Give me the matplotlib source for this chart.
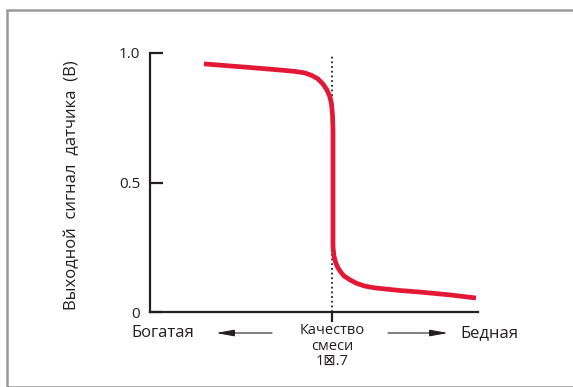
import matplotlib
matplotlib.use("Agg")
import matplotlib.pyplot as plt
from matplotlib.patches import Rectangle, FancyArrowPatch

plt.rcParams['font.family'] = ['Open Sans', 'DejaVu Sans']

# Кривая датчика (ось x в условных единицах, стехиометрия при x = 182)
x_curve = [54, 80, 100, 125, 145, 155, 162, 168, 173, 177, 180, 181.5, 182.5, 183,
           183, 184, 185.5, 187.5, 190, 194, 200, 207, 215, 225, 250, 270, 300, 326]
y_curve = [0.958, 0.950, 0.944, 0.936, 0.929, 0.923, 0.913, 0.900, 0.880, 0.857, 0.830, 0.803, 0.761, 0.703,
           0.251, 0.216, 0.193, 0.174, 0.158, 0.139, 0.124, 0.110, 0.100, 0.093, 0.083, 0.077, 0.066, 0.054]
x_stoich = 182
y_ticks = [0, 0.5, 1.0]
y_ticklabels = ['0', '0.5', '1.0']

W, H = 573, 387
fig = plt.figure(figsize=(W / 100, H / 100), dpi=100)
ax = fig.add_axes([150 / W, (H - 312) / H, 328 / W, 259 / H])

ax.plot(x_curve, y_curve, color='#e31837', lw=3.4, solid_capstyle='butt',
        solid_joinstyle='round', zorder=3)
ax.plot([x_stoich, x_stoich], [0, 0.988], color='#231f20', lw=1.3, ls=(0, (1, 1.6)), zorder=2)

ax.set_xlim(0, 328)
ax.set_ylim(0, 1.0)
for s in ['top', 'right']:
    ax.spines[s].set_visible(False)
for s in ['left', 'bottom']:
    ax.spines[s].set_color('#231f20')
    ax.spines[s].set_linewidth(1.6)
    ax.spines[s].set_capstyle('projecting')

ax.set_yticks(y_ticks)
ax.set_yticklabels(y_ticklabels)
ax.tick_params(axis='y', direction='in', length=9.5, width=1.6, color='#231f20',
               labelsize=11, pad=7, labelcolor='#231f20')
ax.set_xticks([x_stoich])
ax.set_xticklabels([])
ax.tick_params(axis='x', direction='out', length=7.5, width=1.6, color='#231f20')

ax.set_ylabel('Выходной  сигнал  датчика  (В)', fontsize=12, color='#231f20')
ax.yaxis.set_label_coords(-70 / 328, 0.49)

# подписи под осью
def fx(px):
    return px / W

def fy(py):
    return 1 - py / H

fig.text(fx(131), fy(333), 'Богатая', fontsize=12, color='#231f20', ha='left', va='center')
fig.text(fx(518), fy(333), 'Бедная', fontsize=12, color='#231f20', ha='right', va='center')
fig.text(fx(332), fy(346), 'Качество\nсмеси\n1\u22a0.7', fontsize=10.5, color='#231f20',
         ha='center', va='center', linespacing=1.0)

fig.add_artist(FancyArrowPatch((fx(272), fy(333)), (fx(216), fy(333)),
               transform=fig.transFigure, arrowstyle='-|>,head_length=11,head_width=2.0',
               color='#231f20', lw=0.8, shrinkA=0, shrinkB=0))
fig.add_artist(FancyArrowPatch((fx(388), fy(333)), (fx(448), fy(333)),
               transform=fig.transFigure, arrowstyle='-|>,head_length=11,head_width=2.0',
               color='#231f20', lw=0.8, shrinkA=0, shrinkB=0))

# рамка
fig.add_artist(Rectangle((fx(7), 0), 1, fy(10), transform=fig.transFigure,
                         fill=False, edgecolor='#999999', lw=1.8))

fig.savefig('out.png', dpi=100)
